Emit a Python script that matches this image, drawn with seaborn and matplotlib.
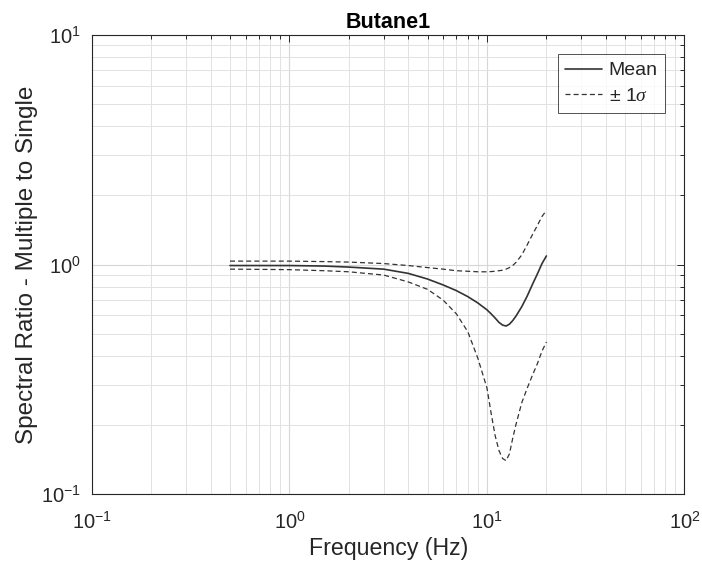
import numpy as np
import pandas as pd
import matplotlib
matplotlib.use("Agg")
import matplotlib.pyplot as plt
import seaborn as sns
from matplotlib.ticker import LogLocator, NullFormatter, FuncFormatter

freq = [0.5, 0.7, 1, 1.5, 2, 3, 4, 5, 6, 7, 8, 9, 10, 10.5, 11, 11.5, 12, 12.5,
        13, 13.5, 14, 15, 16, 17, 18, 19, 20]
mean_vals = [0.99, 0.99, 0.99, 0.985, 0.975, 0.955, 0.915, 0.865, 0.815, 0.77, 0.725,
             0.68, 0.635, 0.61, 0.585, 0.56, 0.545, 0.54, 0.55, 0.57, 0.595, 0.655,
             0.73, 0.82, 0.91, 1.01, 1.09]
upper_vals = [1.035, 1.035, 1.035, 1.03, 1.025, 1.01, 0.99, 0.97, 0.955, 0.94, 0.935,
              0.93, 0.93, 0.932, 0.935, 0.94, 0.945, 0.955, 0.97, 0.99, 1.02, 1.1,
              1.22, 1.35, 1.48, 1.62, 1.72]
lower_vals = [0.955, 0.953, 0.95, 0.94, 0.93, 0.9, 0.84, 0.78, 0.70, 0.61, 0.51,
              0.39, 0.29, 0.225, 0.18, 0.155, 0.143, 0.14, 0.15, 0.175, 0.2, 0.25,
              0.29, 0.33, 0.37, 0.42, 0.46]

title = "Butane1"
xlabel = "Frequency (Hz)"
ylabel = "Spectral Ratio - Multiple to Single"

sns.set_style("white")
plt.rcParams['font.family'] = ['Liberation Sans', 'DejaVu Sans']
plt.rcParams['mathtext.fontset'] = 'custom'
plt.rcParams['mathtext.rm'] = 'Liberation Sans'
plt.rcParams['mathtext.it'] = 'Liberation Serif:italic'

fig = plt.figure(figsize=(7.02, 5.72), dpi=100)
ax = fig.add_axes([0.131, 0.136, 0.844, 0.803])

df = pd.DataFrame({"f": freq, "mean": mean_vals, "up": upper_vals, "lo": lower_vals})
line_color = "#333333"
sns.lineplot(data=df, x="f", y="mean", ax=ax, color=line_color, lw=1.2, label="Mean")
sns.lineplot(data=df, x="f", y="up", ax=ax, color=line_color, lw=0.9, ls=(0, (4, 2.5)),
             label=r"$\pm$ 1$\sigma$")
sns.lineplot(data=df, x="f", y="lo", ax=ax, color=line_color, lw=0.9, ls=(0, (4, 2.5)),
             label="_nolegend_")

ax.set_xscale("log")
ax.set_yscale("log")
ax.set_xlim(0.1, 100)
ax.set_ylim(0.1, 10)

fmt = FuncFormatter(lambda v, p: r"$\mathregular{10^{%d}}$" % int(round(np.log10(v))))
ax.xaxis.set_major_locator(LogLocator(base=10, numticks=10))
ax.yaxis.set_major_locator(LogLocator(base=10, numticks=10))
ax.xaxis.set_major_formatter(fmt)
ax.yaxis.set_major_formatter(fmt)
ax.xaxis.set_minor_locator(LogLocator(base=10, subs=np.arange(2, 10), numticks=20))
ax.yaxis.set_minor_locator(LogLocator(base=10, subs=np.arange(2, 10), numticks=20))
ax.xaxis.set_minor_formatter(NullFormatter())
ax.yaxis.set_minor_formatter(NullFormatter())

ax.grid(True, which="major", color="#d6d6d6", lw=0.8, ls="-")
ax.grid(True, which="minor", color="#e2e2e2", lw=0.7, ls="-")
ax.set_axisbelow(True)

for s in ax.spines.values():
    s.set_color("#262626")
    s.set_linewidth(0.8)
ax.tick_params(which="both", direction="in", top=True, right=True, colors="#262626",
               labelsize=14.5, width=0.7)
ax.tick_params(which="major", length=5)
ax.tick_params(which="minor", length=3)
ax.tick_params(axis="x", which="major", pad=12)
ax.tick_params(axis="y", which="major", pad=8)

ax.set_xlabel(xlabel, fontsize=16.7, color="#262626", labelpad=3)
ax.set_ylabel(ylabel, fontsize=17.5, color="#262626", labelpad=2)
ax.set_title(title, fontsize=15.5, fontweight="bold", color="black", pad=5)

leg = ax.legend(loc="upper right", fontsize=14, frameon=True, fancybox=False,
                edgecolor="#262626", handlelength=1.9, handletextpad=0.33,
                borderaxespad=1.0, borderpad=0.38, labelspacing=0.42)
leg.get_frame().set_linewidth(0.7)

fig.savefig("out.png", dpi=100, facecolor="white")
